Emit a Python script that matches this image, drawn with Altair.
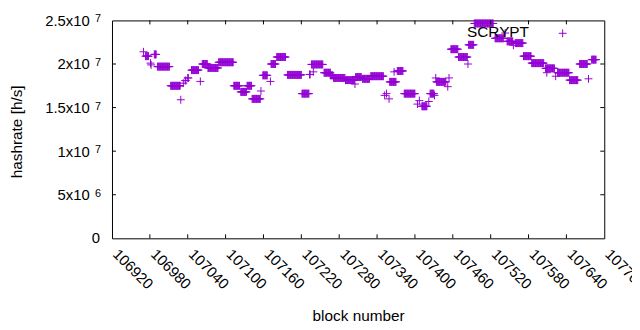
import altair as alt
import pandas as pd

# Runs of (first block, last block, hashrate in 10^6 h/s)
seg_start = [106970, 106973, 106981, 106982, 106987, 106992, 107013, 107029, 107033, 107036,
             107040, 107046, 107060, 107063, 107072, 107089, 107113, 107124, 107134, 107142,
             107156, 107159, 107171, 107172, 107181, 107198, 107221, 107233, 107239, 107236,
             107256, 107266, 107271, 107290, 107305, 107306, 107317, 107330, 107352, 107355,
             107359, 107360, 107367, 107372, 107383, 107404, 107407, 107411, 107422, 107424,
             107431, 107433, 107434, 107452, 107454, 107457, 107469, 107484, 107485, 107494,
             107527, 107543, 107546, 107556, 107559, 107572, 107585, 107607, 107609, 107623,
             107626, 107645, 107661, 107675, 107680]
seg_end = [106970, 106978, 106981, 106982, 106990, 107011, 107028, 107029, 107033, 107037,
           107041, 107057, 107060, 107071, 107088, 107112, 107122, 107133, 107141, 107155,
           107156, 107166, 107171, 107179, 107195, 107220, 107232, 107234, 107239, 107254,
           107266, 107270, 107289, 107304, 107305, 107315, 107328, 107350, 107352, 107355,
           107359, 107370, 107367, 107381, 107400, 107404, 107407, 107419, 107422, 107430,
           107431, 107433, 107449, 107452, 107454, 107468, 107483, 107484, 107493, 107524,
           107540, 107543, 107555, 107556, 107571, 107584, 107604, 107621, 107609, 107623,
           107644, 107658, 107673, 107675, 107687]
seg_value = [21.4, 20.9, 20.1, 19.9, 21.1, 19.7, 17.5, 15.9, 17.8, 18.1,
             18.4, 19.3, 18.0, 20.0, 19.55, 20.2, 17.5, 16.8, 17.5, 16.0,
             16.9, 18.7, 18.0, 20.0, 20.8, 18.75, 16.6, 18.8, 19.1, 19.95,
             19.0, 18.7, 18.4, 18.15, 17.7, 18.5, 18.3, 18.6, 16.4, 16.6,
             16.0, 17.95, 19.1, 19.2, 16.6, 15.4, 15.8, 15.15, 15.7, 16.6,
             16.4, 18.4, 17.95, 17.4, 18.4, 21.7, 20.8, 20.0, 22.2, 24.65,
             22.95, 23.55, 22.6, 22.15, 22.4, 20.9, 20.1, 19.5, 19.0, 18.6,
             19.0, 18.15, 20.0, 18.3, 20.5]

x_ticks = list(range(106920, 107701, 60))
y_ticks = [0, 5e6, 1e7, 1.5e7, 2e7, 2.5e7]
y_tick_mantissa = ["0", "5x10", "1x10", "1.5x10", "2x10", "2.5x10"]
y_tick_exponent = ["", "6", "7", "7", "7", "7"]
series_name = "SCRYPT"

PURPLE = "#9400d3"
FONT = "Liberation Sans"
FS = 15
FT = 15.5
W, H = 497, 220
PLUS = "M-1,0L1,0M0,-1L0,1"

rows = []
for s, e, v in zip(seg_start, seg_end, seg_value):
    for b in range(s, e + 1):
        rows.append({"block": b, "hashrate": v * 1e6})
df = pd.DataFrame(rows)

# labels that carry an exponent are drawn by the axis; the plain "0" by a text layer
label_expr = " : ".join(
    f"datum.value == {int(v)} ? '{t}'"
    for v, t, e in zip(y_ticks, y_tick_mantissa, y_tick_exponent) if e
) + " : ''"

xscale = alt.Scale(domain=[106920, 107700], nice=False, zero=False)
yscale = alt.Scale(domain=[0, 2.5e7], nice=False)

x_axis = alt.Axis(values=x_ticks, title="block number", format="d",
                  labelAngle=45, labelAlign="left", labelBaseline="top",
                  labelPadding=8, labelOffset=8, ticks=False, domain=False, grid=False,
                  labelFont=FONT, labelFontSize=FS, labelColor="black",
                  titleFont=FONT, titleFontSize=FT, titleFontWeight="normal",
                  titleColor="black", titleX=W / 2, titleY=83,
                  titleBaseline="alphabetic", labelOverlap=False,
                  labelBound=False, labelFlush=False)
y_axis = alt.Axis(values=y_ticks, title="hashrate [h/s]", labelExpr=label_expr,
                  labelPadding=23, ticks=False, domain=False, grid=False,
                  labelFont=FONT, labelFontSize=FS, labelColor="black",
                  titleFont=FONT, titleFontSize=FT, titleFontWeight="normal",
                  titleColor="black", titleX=-96, titleY=112,
                  titleBaseline="middle", labelOverlap=False)

points = alt.Chart(df).mark_point(
    shape=PLUS, filled=False, size=64, strokeWidth=1, color=PURPLE, opacity=1
).encode(
    x=alt.X("block:Q", scale=xscale, axis=x_axis),
    y=alt.Y("hashrate:Q", scale=yscale, axis=y_axis),
)

xt = pd.DataFrame({"t": x_ticks[1:-1]})
yt = pd.DataFrame({"t": y_ticks[1:-1]})
TL = 4
xb = alt.Chart(xt).mark_rule(color="black", strokeWidth=1).encode(
    x=alt.X("t:Q", scale=xscale, axis=x_axis), y=alt.value(H), y2=alt.value(H - TL))
xtop = alt.Chart(xt).mark_rule(color="black", strokeWidth=1).encode(
    x=alt.X("t:Q", scale=xscale, axis=x_axis), y=alt.value(0), y2=alt.value(TL))
yl = alt.Chart(yt).mark_rule(color="black", strokeWidth=1).encode(
    y=alt.Y("t:Q", scale=yscale, axis=y_axis), x=alt.value(0), x2=alt.value(TL))
yr = alt.Chart(yt).mark_rule(color="black", strokeWidth=1).encode(
    y=alt.Y("t:Q", scale=yscale, axis=y_axis), x=alt.value(W), x2=alt.value(W - TL))

ye = pd.DataFrame({"t": y_ticks, "e": y_tick_exponent, "m": y_tick_mantissa})
exps = alt.Chart(ye).mark_text(
    align="right", baseline="alphabetic", font=FONT, fontSize=11, color="black", dy=2
).encode(y=alt.Y("t:Q", scale=yscale, axis=y_axis), text="e:N", x=alt.value(-11))
zero_lbl = alt.Chart(ye).transform_filter("datum.e == ''").mark_text(
    align="right", baseline="middle", font=FONT, fontSize=FS, color="black"
).encode(y=alt.Y("t:Q", scale=yscale, axis=y_axis), text="m:N", x=alt.value(-12))

leg = pd.DataFrame({"name": [series_name]})
leg_text = alt.Chart(leg).mark_text(
    align="right", baseline="middle", font=FONT, fontSize=FT, color="black"
).encode(text="name:N", x=alt.value(421), y=alt.value(12))
leg_pt = alt.Chart(leg).mark_point(
    shape=PLUS, filled=False, size=64, strokeWidth=1, color=PURPLE, opacity=1
).encode(x=alt.value(455), y=alt.value(13))

chart = alt.layer(points, xb, xtop, yl, yr, exps, zero_lbl, leg_text, leg_pt).properties(
    width=W, height=H, background="white",
    padding={"left": 105, "top": 11, "right": 28, "bottom": 90},
    autosize="none",
).configure_view(stroke="black", strokeWidth=1)

chart.save("out.html", embed_options={"renderer": "svg", "actions": False})
